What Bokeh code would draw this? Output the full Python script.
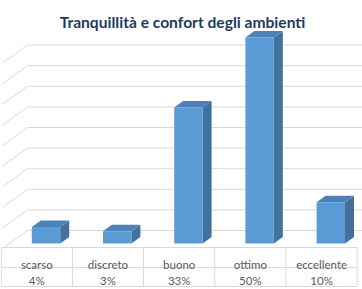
from bokeh.plotting import figure
from bokeh.models import Range1d
from bokeh.embed import file_html
from bokeh.resources import INLINE
from bokeh.core.properties import value

# ---- data ----
categories = ["scarso", "discreto", "buono", "ottimo", "eccellente"]
values = [4, 3, 33, 50, 10]
labels = ["4%", "3%", "33%", "50%", "10%"]
grid_ticks = [0, 5, 10, 15, 20, 25, 30, 35, 40, 45]
title_text = "Tranquillità e confort degli ambienti"

# ---- layout (pixels) ----
W, H = 362, 289
step_px = 71.2          # pixels per category
first_px = 45.5         # pixel x of first bar front centre
base_px = 243.0         # pixel y (from top) of bar front baseline
unit_px = 4.12          # pixels per percentage point
bar_half_px = 14.2
bar_dx_px, bar_dy_px = 9.0, 6.5
wall_dx_px, wall_dy_px = 25.0, 18.0
wall_left_px = 27.0
wall_back_zero_px = 230.0
table_left_px = 0.7
table_rows_px = [247.0, 267.0, 286.0]


def X(px):
    return (px - first_px) / step_px


def Y(px):
    return (base_px - px) / unit_px


p = figure(width=W, height=H, x_range=Range1d(X(0), X(W)), y_range=Range1d(Y(H), Y(0)),
           toolbar_location=None, output_backend="svg", min_border=0,
           background_fill_color="white", border_fill_color="white")
p.axis.visible = False
p.grid.visible = False
p.outline_line_color = None

# ---- back wall gridlines with left-side diagonals ----
wb0 = Y(wall_back_zero_px)
wf0 = Y(wall_back_zero_px + wall_dy_px)
gx = [[X(wall_left_px - wall_dx_px), X(wall_left_px), X(W)] for t in grid_ticks]
gy = [[wf0 + t, wb0 + t, wb0 + t] for t in grid_ticks]
p.multi_line(gx, gy, line_color="#d9d9d9", line_width=1)

# ---- 3D bars ----
hw = bar_half_px / step_px
ddx = bar_dx_px / step_px
ddy = bar_dy_px / unit_px
idx = list(range(len(values)))
side_xs, side_ys, top_xs, top_ys = [], [], [], []
for i, v in zip(idx, values):
    side_xs.append([i + hw, i + hw + ddx, i + hw + ddx, i + hw])
    side_ys.append([0, ddy, v + ddy, v])
    top_xs.append([i - hw, i + hw, i + hw + ddx, i - hw + ddx])
    top_ys.append([v, v, v + ddy, v + ddy])
p.patches(side_xs, side_ys, fill_color="#41719c", line_color=None)
p.patches(top_xs, top_ys, fill_color="#4d81ba", line_color=None)
p.quad(left=[i - hw for i in idx], right=[i + hw for i in idx], bottom=0, top=values,
       fill_color="#5b9bd5", line_color=None)

# ---- data table ----
bounds = [X(table_left_px) + k for k in range(len(categories) + 1)]
hx = [[bounds[0], bounds[-1]] for _ in table_rows_px]
hy = [[Y(r), Y(r)] for r in table_rows_px]
vx = [[b, b] for b in bounds]
vy = [[Y(table_rows_px[0]), Y(table_rows_px[-1])] for _ in bounds]
p.multi_line(hx + vx, hy + vy, line_color="#d9d9d9", line_width=1)

centers = [(bounds[k] + bounds[k + 1]) / 2 for k in range(len(categories))]
p.text(x=centers, y=[Y(264.0)] * len(categories), text=categories,
       text_font=value("Lato"), text_font_size="11.5px", text_color="#595959",
       text_align="center", text_baseline="alphabetic")
p.text(x=centers, y=[Y(279.5)] * len(labels), text=labels,
       text_font=value("Lato"), text_font_size="11.5px", text_color="#595959",
       text_align="center", text_baseline="alphabetic")

# ---- title ----
p.text(x=[X(182)], y=[Y(21.7)], text=[title_text],
       text_font=value("Lato"), text_font_size="15.6px", text_font_style="bold",
       text_color="#1f3a60", text_align="center", text_baseline="alphabetic")

open("out.html", "w").write(file_html(p, INLINE))
